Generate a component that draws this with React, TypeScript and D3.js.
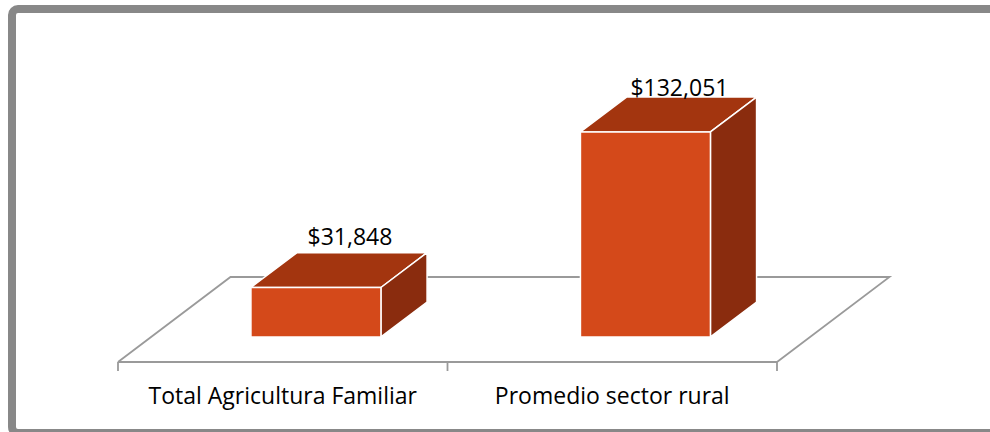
import React from "react";
import * as d3 from "d3";

const categories = ["Total Agricultura Familiar", "Promedio sector rural"];
const values = [31848, 132051];
const valueLabels = ["$31,848", "$132,051"];

const W = 990;
const H = 432;

export default function App() {
  // floor geometry (front edge + depth vector)
  const floorFrontY = 362;
  const depthDX = 112.5;
  const depthDY = -85;
  const x = d3.scaleBand<string>().domain(categories).range([118, 777]).paddingInner(0).paddingOuter(0);
  const y = d3.scaleLinear().domain([0, 132051]).range([0, 205]);

  const barW = 130;
  const d0 = 0.295;
  const d1 = 0.705;
  const bdx = (d1 - d0) * depthDX;
  const bdy = (d1 - d0) * depthDY;
  const plotTop = 96;

  const fl = 118, fr = 777;
  const floorPts = [
    [fl, floorFrontY],
    [fl + depthDX, floorFrontY + depthDY],
    [fr + depthDX, floorFrontY + depthDY],
    [fr, floorFrontY],
  ];
  const ticks = [fl, ...categories.map((c) => (x(c) as number) + x.bandwidth())];
  const fontFamily = "'Open Sans', 'Noto Sans', sans-serif";

  return (
    <div style={{ position: "absolute", left: 0, top: 0, width: W, height: H, overflow: "hidden" }}>
      <svg width={W} height={H} style={{ display: "block", background: "#fff" }}>
        <rect x={12} y={9} width={W + 20} height={424} rx={6} fill="#fff" stroke="#888888" strokeWidth={8} />
        {/* floor */}
        <polyline
          points={floorPts.map((p) => p.join(",")).join(" ")}
          fill="none"
          stroke="#9a9a9a"
          strokeWidth={1.8}
        />
        <line x1={fl} x2={fr} y1={floorFrontY} y2={floorFrontY} stroke="#9a9a9a" strokeWidth={1.8} />
        {ticks.map((t, i) => (
          <line key={i} x1={t} x2={t} y1={floorFrontY} y2={floorFrontY + 9} stroke="#9a9a9a" strokeWidth={1.8} />
        ))}
        {categories.map((c, i) => {
          const cx = (x(c) as number) + x.bandwidth() / 2 + d0 * depthDX;
          const by = floorFrontY + d0 * depthDY;
          const h = y(values[i]);
          const x0 = cx - barW / 2;
          const x1 = cx + barW / 2;
          const ty = by - h;
          const front = `M${x0},${by}L${x0},${ty}L${x1},${ty}L${x1},${by}Z`;
          const top = `M${x0},${ty}L${x0 + bdx},${ty + bdy}L${x1 + bdx},${ty + bdy}L${x1},${ty}Z`;
          const side = `M${x1},${by}L${x1},${ty}L${x1 + bdx},${ty + bdy}L${x1 + bdx},${by + bdy}Z`;
          return (
            <g key={c}>
              <path d={top} fill="#A3350F" stroke="#fff" strokeWidth={1.5} strokeLinejoin="round" />
              <path d={side} fill="#8A2C0E" stroke="#fff" strokeWidth={1.5} strokeLinejoin="round" />
              <path d={front} fill="#D4491A" stroke="#fff" strokeWidth={1.5} strokeLinejoin="round" />
              <text
                x={cx + 34}
                y={Math.max(ty + bdy - 8, plotTop)}
                textAnchor="middle"
                fontFamily={fontFamily}
                fontSize={23}
                fill="#000"
              >
                {valueLabels[i]}
              </text>
            </g>
          );
        })}
        {categories.map((c) => (
          <text
            key={c}
            x={(x(c) as number) + x.bandwidth() / 2}
            y={404}
            textAnchor="middle"
            fontFamily={fontFamily}
            fontSize={23}
            fill="#000"
          >
            {c}
          </text>
        ))}
      </svg>
    </div>
  );
}
